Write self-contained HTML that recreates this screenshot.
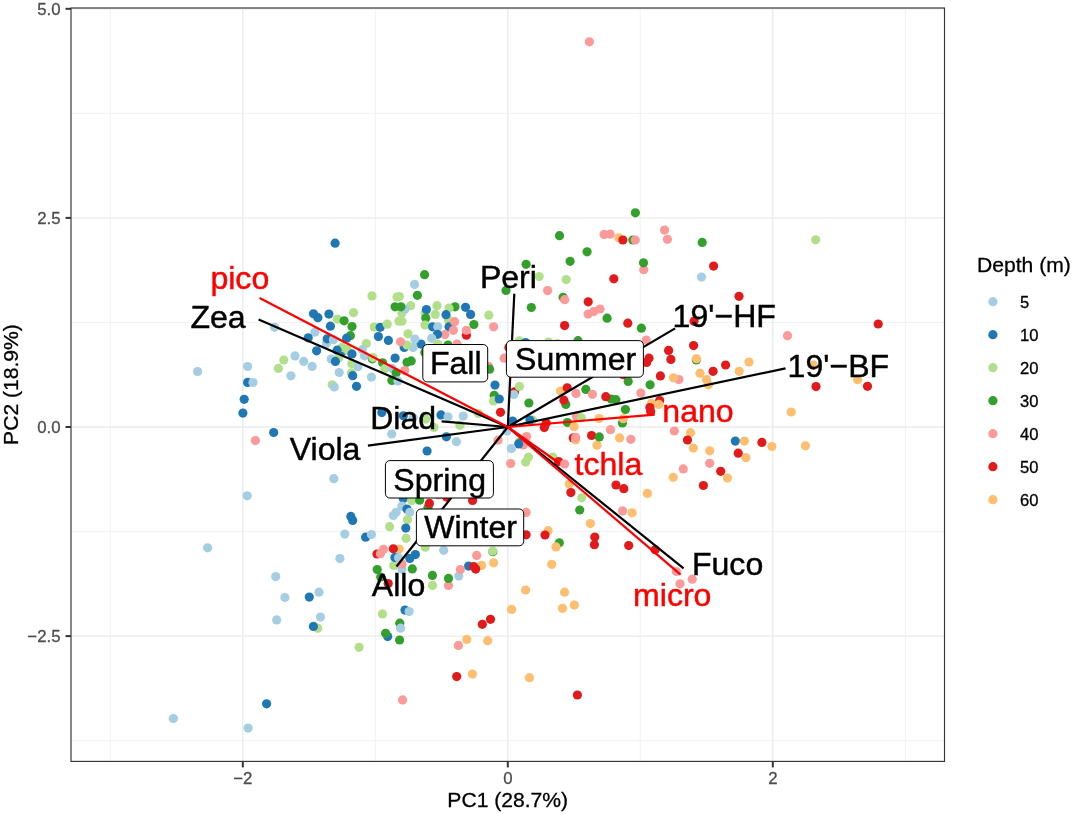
<!DOCTYPE html><html><head><meta charset="utf-8"><title>PCA biplot</title>
<style>html,body{margin:0;padding:0;background:#fff}svg{display:block}text{font-family:"Liberation Sans",Arial,Helvetica,sans-serif}</style></head><body>
<svg width="1072" height="814" viewBox="0 0 1072 814">
<rect width="1072" height="814" fill="#fff"/>
<g stroke="#ebebeb" fill="none">
<line x1="110.30" x2="110.30" y1="8.0" y2="761.4" stroke-width="0.7"/>
<line x1="375.30" x2="375.30" y1="8.0" y2="761.4" stroke-width="0.7"/>
<line x1="640.30" x2="640.30" y1="8.0" y2="761.4" stroke-width="0.7"/>
<line x1="905.30" x2="905.30" y1="8.0" y2="761.4" stroke-width="0.7"/>
<line y1="113.35" y2="113.35" x1="71.0" x2="944.5" stroke-width="0.7"/>
<line y1="322.45" y2="322.45" x1="71.0" x2="944.5" stroke-width="0.7"/>
<line y1="531.55" y2="531.55" x1="71.0" x2="944.5" stroke-width="0.7"/>
<line y1="740.65" y2="740.65" x1="71.0" x2="944.5" stroke-width="0.7"/>
<line x1="242.80" x2="242.80" y1="8.0" y2="761.4" stroke-width="1.4"/>
<line x1="507.80" x2="507.80" y1="8.0" y2="761.4" stroke-width="1.4"/>
<line x1="772.80" x2="772.80" y1="8.0" y2="761.4" stroke-width="1.4"/>
<line y1="8.80" y2="8.80" x1="71.0" x2="944.5" stroke-width="1.4"/>
<line y1="217.90" y2="217.90" x1="71.0" x2="944.5" stroke-width="1.4"/>
<line y1="427.00" y2="427.00" x1="71.0" x2="944.5" stroke-width="1.4"/>
<line y1="636.10" y2="636.10" x1="71.0" x2="944.5" stroke-width="1.4"/>
</g>
<g>
<circle cx="274.6" cy="327.3" r="4.6" fill="#A6CEE3"/>
<circle cx="295.0" cy="355.9" r="4.6" fill="#A6CEE3"/>
<circle cx="283.8" cy="360.0" r="4.6" fill="#B2DF8A"/>
<circle cx="278.4" cy="368.4" r="4.6" fill="#B2DF8A"/>
<circle cx="290.9" cy="375.8" r="4.6" fill="#A6CEE3"/>
<circle cx="247.6" cy="366.5" r="4.6" fill="#A6CEE3"/>
<circle cx="197.6" cy="371.5" r="4.6" fill="#A6CEE3"/>
<circle cx="247.6" cy="382.4" r="4.6" fill="#1F78B4"/>
<circle cx="253.0" cy="382.5" r="4.6" fill="#A6CEE3"/>
<circle cx="244.2" cy="399.3" r="4.6" fill="#1F78B4"/>
<circle cx="242.9" cy="413.1" r="4.6" fill="#1F78B4"/>
<circle cx="273.7" cy="432.5" r="4.6" fill="#1F78B4"/>
<circle cx="255.4" cy="440.6" r="4.6" fill="#FB9A99"/>
<circle cx="247.2" cy="495.8" r="4.6" fill="#A6CEE3"/>
<circle cx="207.6" cy="547.8" r="4.6" fill="#A6CEE3"/>
<circle cx="275.7" cy="576.6" r="4.6" fill="#A6CEE3"/>
<circle cx="284.9" cy="597.5" r="4.6" fill="#A6CEE3"/>
<circle cx="276.7" cy="619.9" r="4.6" fill="#A6CEE3"/>
<circle cx="266.6" cy="703.8" r="4.6" fill="#1F78B4"/>
<circle cx="173.3" cy="718.5" r="4.6" fill="#A6CEE3"/>
<circle cx="248.1" cy="728.1" r="4.6" fill="#A6CEE3"/>
<circle cx="335.1" cy="243.2" r="4.6" fill="#1F78B4"/>
<circle cx="424.6" cy="274.7" r="4.6" fill="#33A02C"/>
<circle cx="414.6" cy="284.4" r="4.6" fill="#A6CEE3"/>
<circle cx="372.0" cy="295.9" r="4.6" fill="#B2DF8A"/>
<circle cx="397.0" cy="297.0" r="4.6" fill="#B2DF8A"/>
<circle cx="395.1" cy="306.8" r="4.6" fill="#33A02C"/>
<circle cx="313.5" cy="313.8" r="4.6" fill="#1F78B4"/>
<circle cx="317.9" cy="317.7" r="4.6" fill="#1F78B4"/>
<circle cx="328.9" cy="314.1" r="4.6" fill="#1F78B4"/>
<circle cx="353.5" cy="312.7" r="4.6" fill="#B2DF8A"/>
<circle cx="337.3" cy="319.1" r="4.6" fill="#B2DF8A"/>
<circle cx="344.1" cy="320.8" r="4.6" fill="#33A02C"/>
<circle cx="352.0" cy="326.6" r="4.6" fill="#33A02C"/>
<circle cx="330.4" cy="326.2" r="4.6" fill="#1F78B4"/>
<circle cx="350.4" cy="335.7" r="4.6" fill="#33A02C"/>
<circle cx="346.6" cy="338.2" r="4.6" fill="#1F78B4"/>
<circle cx="314.9" cy="332.2" r="4.6" fill="#A6CEE3"/>
<circle cx="308.2" cy="337.8" r="4.6" fill="#1F78B4"/>
<circle cx="326.4" cy="343.8" r="4.6" fill="#A6CEE3"/>
<circle cx="327.2" cy="338.8" r="4.6" fill="#1F78B4"/>
<circle cx="333.4" cy="339.7" r="4.6" fill="#A6CEE3"/>
<circle cx="374.2" cy="327.0" r="4.6" fill="#B2DF8A"/>
<circle cx="380.2" cy="327.3" r="4.6" fill="#1F78B4"/>
<circle cx="387.2" cy="324.2" r="4.6" fill="#B2DF8A"/>
<circle cx="398.9" cy="321.2" r="4.6" fill="#B2DF8A"/>
<circle cx="378.4" cy="336.6" r="4.6" fill="#1F78B4"/>
<circle cx="388.4" cy="340.4" r="4.6" fill="#1F78B4"/>
<circle cx="366.4" cy="343.5" r="4.6" fill="#B2DF8A"/>
<circle cx="342.4" cy="351.1" r="4.6" fill="#1F78B4"/>
<circle cx="342.0" cy="347.4" r="4.6" fill="#B2DF8A"/>
<circle cx="347.1" cy="349.7" r="4.6" fill="#B2DF8A"/>
<circle cx="337.1" cy="350.2" r="4.6" fill="#1F78B4"/>
<circle cx="352.0" cy="353.9" r="4.6" fill="#1F78B4"/>
<circle cx="316.6" cy="350.8" r="4.6" fill="#1F78B4"/>
<circle cx="362.3" cy="349.7" r="4.6" fill="#A6CEE3"/>
<circle cx="364.4" cy="355.8" r="4.6" fill="#A6CEE3"/>
<circle cx="372.3" cy="358.8" r="4.6" fill="#33A02C"/>
<circle cx="372.8" cy="357.6" r="4.6" fill="#B2DF8A"/>
<circle cx="382.6" cy="362.8" r="4.6" fill="#33A02C"/>
<circle cx="395.1" cy="358.1" r="4.6" fill="#1F78B4"/>
<circle cx="303.7" cy="361.4" r="4.6" fill="#A6CEE3"/>
<circle cx="331.2" cy="359.0" r="4.6" fill="#A6CEE3"/>
<circle cx="338.7" cy="358.1" r="4.6" fill="#B2DF8A"/>
<circle cx="335.4" cy="361.4" r="4.6" fill="#1F78B4"/>
<circle cx="351.8" cy="363.7" r="4.6" fill="#B2DF8A"/>
<circle cx="312.1" cy="366.4" r="4.6" fill="#A6CEE3"/>
<circle cx="339.2" cy="372.5" r="4.6" fill="#A6CEE3"/>
<circle cx="357.8" cy="366.7" r="4.6" fill="#A6CEE3"/>
<circle cx="351.3" cy="372.9" r="4.6" fill="#B2DF8A"/>
<circle cx="352.7" cy="375.7" r="4.6" fill="#1F78B4"/>
<circle cx="371.4" cy="377.1" r="4.6" fill="#A6CEE3"/>
<circle cx="332.2" cy="384.8" r="4.6" fill="#B2DF8A"/>
<circle cx="334.3" cy="386.9" r="4.6" fill="#A6CEE3"/>
<circle cx="356.5" cy="386.3" r="4.6" fill="#1F78B4"/>
<circle cx="381.8" cy="412.6" r="4.6" fill="#1F78B4"/>
<circle cx="391.7" cy="434.0" r="4.6" fill="#A6CEE3"/>
<circle cx="384.9" cy="368.7" r="4.6" fill="#B2DF8A"/>
<circle cx="391.9" cy="368.3" r="4.6" fill="#A6CEE3"/>
<circle cx="396.1" cy="372.9" r="4.6" fill="#33A02C"/>
<circle cx="391.9" cy="380.4" r="4.6" fill="#33A02C"/>
<circle cx="397.9" cy="380.9" r="4.6" fill="#A6CEE3"/>
<circle cx="333.8" cy="478.7" r="4.6" fill="#A6CEE3"/>
<circle cx="396.1" cy="512.3" r="4.6" fill="#A6CEE3"/>
<circle cx="350.8" cy="516.4" r="4.6" fill="#1F78B4"/>
<circle cx="352.7" cy="520.4" r="4.6" fill="#1F78B4"/>
<circle cx="389.6" cy="526.7" r="4.6" fill="#B2DF8A"/>
<circle cx="344.8" cy="534.1" r="4.6" fill="#A6CEE3"/>
<circle cx="365.6" cy="537.2" r="4.6" fill="#1F78B4"/>
<circle cx="371.4" cy="534.6" r="4.6" fill="#A6CEE3"/>
<circle cx="339.9" cy="558.6" r="4.6" fill="#A6CEE3"/>
<circle cx="377.0" cy="554.0" r="4.6" fill="#E31A1C"/>
<circle cx="380.4" cy="553.7" r="4.6" fill="#FB9A99"/>
<circle cx="383.5" cy="549.3" r="4.6" fill="#FB9A99"/>
<circle cx="399.3" cy="549.0" r="4.6" fill="#FDBF6F"/>
<circle cx="393.3" cy="548.8" r="4.6" fill="#E31A1C"/>
<circle cx="393.8" cy="565.4" r="4.6" fill="#B2DF8A"/>
<circle cx="377.2" cy="569.6" r="4.6" fill="#33A02C"/>
<circle cx="380.7" cy="577.0" r="4.6" fill="#33A02C"/>
<circle cx="388.2" cy="583.6" r="4.6" fill="#E31A1C"/>
<circle cx="393.3" cy="515.5" r="4.6" fill="#A6CEE3"/>
<circle cx="319.0" cy="592.2" r="4.6" fill="#A6CEE3"/>
<circle cx="309.3" cy="597.1" r="4.6" fill="#1F78B4"/>
<circle cx="320.5" cy="617.1" r="4.6" fill="#A6CEE3"/>
<circle cx="317.7" cy="628.2" r="4.6" fill="#B2DF8A"/>
<circle cx="313.4" cy="626.4" r="4.6" fill="#1F78B4"/>
<circle cx="382.5" cy="613.9" r="4.6" fill="#B2DF8A"/>
<circle cx="405.0" cy="610.1" r="4.6" fill="#1F78B4"/>
<circle cx="409.1" cy="611.6" r="4.6" fill="#A6CEE3"/>
<circle cx="399.8" cy="623.2" r="4.6" fill="#33A02C"/>
<circle cx="400.6" cy="628.2" r="4.6" fill="#A6CEE3"/>
<circle cx="387.7" cy="636.6" r="4.6" fill="#1F78B4"/>
<circle cx="385.6" cy="633.3" r="4.6" fill="#33A02C"/>
<circle cx="399.6" cy="640.0" r="4.6" fill="#33A02C"/>
<circle cx="359.1" cy="647.3" r="4.6" fill="#B2DF8A"/>
<circle cx="458.4" cy="645.4" r="4.6" fill="#FB9A99"/>
<circle cx="466.8" cy="639.4" r="4.6" fill="#FDBF6F"/>
<circle cx="487.7" cy="640.7" r="4.6" fill="#FDBF6F"/>
<circle cx="482.3" cy="624.3" r="4.6" fill="#E31A1C"/>
<circle cx="490.5" cy="619.3" r="4.6" fill="#E31A1C"/>
<circle cx="456.7" cy="676.6" r="4.6" fill="#E31A1C"/>
<circle cx="472.4" cy="674.1" r="4.6" fill="#FDBF6F"/>
<circle cx="402.6" cy="699.9" r="4.6" fill="#FB9A99"/>
<circle cx="417.4" cy="295.3" r="4.6" fill="#33A02C"/>
<circle cx="410.7" cy="305.7" r="4.6" fill="#B2DF8A"/>
<circle cx="399.3" cy="296.5" r="4.6" fill="#B2DF8A"/>
<circle cx="401.9" cy="312.9" r="4.6" fill="#B2DF8A"/>
<circle cx="405.1" cy="309.1" r="4.6" fill="#A6CEE3"/>
<circle cx="400.9" cy="306.8" r="4.6" fill="#33A02C"/>
<circle cx="401.9" cy="321.2" r="4.6" fill="#B2DF8A"/>
<circle cx="425.2" cy="313.3" r="4.6" fill="#B2DF8A"/>
<circle cx="426.4" cy="309.6" r="4.6" fill="#1F78B4"/>
<circle cx="425.8" cy="318.0" r="4.6" fill="#33A02C"/>
<circle cx="425.0" cy="325.0" r="4.6" fill="#B2DF8A"/>
<circle cx="437.0" cy="305.7" r="4.6" fill="#B2DF8A"/>
<circle cx="435.3" cy="314.4" r="4.6" fill="#B2DF8A"/>
<circle cx="455.0" cy="306.8" r="4.6" fill="#33A02C"/>
<circle cx="449.0" cy="308.2" r="4.6" fill="#B2DF8A"/>
<circle cx="448.5" cy="319.9" r="4.6" fill="#B2DF8A"/>
<circle cx="446.0" cy="314.7" r="4.6" fill="#1F78B4"/>
<circle cx="465.5" cy="307.3" r="4.6" fill="#1F78B4"/>
<circle cx="470.6" cy="314.4" r="4.6" fill="#1F78B4"/>
<circle cx="488.8" cy="315.2" r="4.6" fill="#B2DF8A"/>
<circle cx="449.0" cy="326.8" r="4.6" fill="#1F78B4"/>
<circle cx="454.6" cy="321.7" r="4.6" fill="#FB9A99"/>
<circle cx="453.4" cy="330.3" r="4.6" fill="#FB9A99"/>
<circle cx="432.6" cy="326.8" r="4.6" fill="#1F78B4"/>
<circle cx="437.8" cy="326.8" r="4.6" fill="#A6CEE3"/>
<circle cx="444.8" cy="334.6" r="4.6" fill="#FB9A99"/>
<circle cx="437.5" cy="334.3" r="4.6" fill="#1F78B4"/>
<circle cx="431.7" cy="338.3" r="4.6" fill="#A6CEE3"/>
<circle cx="473.9" cy="324.5" r="4.6" fill="#33A02C"/>
<circle cx="466.4" cy="335.2" r="4.6" fill="#E31A1C"/>
<circle cx="466.4" cy="330.3" r="4.6" fill="#FB9A99"/>
<circle cx="493.6" cy="326.8" r="4.6" fill="#FB9A99"/>
<circle cx="407.9" cy="333.8" r="4.6" fill="#B2DF8A"/>
<circle cx="421.0" cy="344.1" r="4.6" fill="#1F78B4"/>
<circle cx="414.9" cy="339.0" r="4.6" fill="#A6CEE3"/>
<circle cx="413.1" cy="347.4" r="4.6" fill="#A6CEE3"/>
<circle cx="404.2" cy="347.4" r="4.6" fill="#1F78B4"/>
<circle cx="407.0" cy="345.0" r="4.6" fill="#B2DF8A"/>
<circle cx="400.5" cy="341.8" r="4.6" fill="#FB9A99"/>
<circle cx="437.8" cy="344.1" r="4.6" fill="#B2DF8A"/>
<circle cx="448.0" cy="345.0" r="4.6" fill="#33A02C"/>
<circle cx="457.1" cy="344.1" r="4.6" fill="#FB9A99"/>
<circle cx="407.0" cy="362.3" r="4.6" fill="#33A02C"/>
<circle cx="411.2" cy="360.9" r="4.6" fill="#33A02C"/>
<circle cx="424.8" cy="352.5" r="4.6" fill="#33A02C"/>
<circle cx="404.7" cy="370.6" r="4.6" fill="#FB9A99"/>
<circle cx="403.3" cy="415.8" r="4.6" fill="#1F78B4"/>
<circle cx="413.1" cy="417.7" r="4.6" fill="#A6CEE3"/>
<circle cx="425.7" cy="419.1" r="4.6" fill="#B2DF8A"/>
<circle cx="434.0" cy="427.5" r="4.6" fill="#B2DF8A"/>
<circle cx="441.0" cy="414.9" r="4.6" fill="#1F78B4"/>
<circle cx="448.0" cy="416.8" r="4.6" fill="#A6CEE3"/>
<circle cx="463.2" cy="416.1" r="4.6" fill="#A6CEE3"/>
<circle cx="478.4" cy="413.5" r="4.6" fill="#B2DF8A"/>
<circle cx="459.9" cy="425.2" r="4.6" fill="#B2DF8A"/>
<circle cx="446.4" cy="436.8" r="4.6" fill="#1F78B4"/>
<circle cx="495.0" cy="385.1" r="4.6" fill="#1F78B4"/>
<circle cx="494.2" cy="395.3" r="4.6" fill="#33A02C"/>
<circle cx="493.6" cy="400.9" r="4.6" fill="#B2DF8A"/>
<circle cx="499.3" cy="399.0" r="4.6" fill="#1F78B4"/>
<circle cx="488.6" cy="366.4" r="4.6" fill="#FB9A99"/>
<circle cx="489.6" cy="369.2" r="4.6" fill="#33A02C"/>
<circle cx="456.4" cy="441.7" r="4.6" fill="#A6CEE3"/>
<circle cx="427.1" cy="451.0" r="4.6" fill="#1F78B4"/>
<circle cx="403.3" cy="498.6" r="4.6" fill="#1F78B4"/>
<circle cx="411.7" cy="500.6" r="4.6" fill="#B2DF8A"/>
<circle cx="419.6" cy="500.2" r="4.6" fill="#33A02C"/>
<circle cx="428.0" cy="507.6" r="4.6" fill="#33A02C"/>
<circle cx="429.4" cy="503.4" r="4.6" fill="#E31A1C"/>
<circle cx="446.6" cy="497.1" r="4.6" fill="#E31A1C"/>
<circle cx="438.7" cy="495.0" r="4.6" fill="#FB9A99"/>
<circle cx="472.6" cy="500.4" r="4.6" fill="#E31A1C"/>
<circle cx="401.9" cy="506.2" r="4.6" fill="#A6CEE3"/>
<circle cx="407.0" cy="509.0" r="4.6" fill="#1F78B4"/>
<circle cx="409.8" cy="512.3" r="4.6" fill="#A6CEE3"/>
<circle cx="407.5" cy="519.7" r="4.6" fill="#B2DF8A"/>
<circle cx="405.8" cy="528.1" r="4.6" fill="#1F78B4"/>
<circle cx="406.1" cy="538.3" r="4.6" fill="#B2DF8A"/>
<circle cx="425.2" cy="547.2" r="4.6" fill="#B2DF8A"/>
<circle cx="443.7" cy="550.3" r="4.6" fill="#A6CEE3"/>
<circle cx="415.4" cy="554.6" r="4.6" fill="#1F78B4"/>
<circle cx="409.8" cy="558.4" r="4.6" fill="#1F78B4"/>
<circle cx="394.9" cy="557.4" r="4.6" fill="#1F78B4"/>
<circle cx="398.6" cy="557.7" r="4.6" fill="#A6CEE3"/>
<circle cx="401.9" cy="569.1" r="4.6" fill="#A6CEE3"/>
<circle cx="401.9" cy="564.0" r="4.6" fill="#FB9A99"/>
<circle cx="412.3" cy="568.9" r="4.6" fill="#33A02C"/>
<circle cx="492.8" cy="551.7" r="4.6" fill="#33A02C"/>
<circle cx="492.6" cy="550.9" r="4.6" fill="#B2DF8A"/>
<circle cx="476.7" cy="555.4" r="4.6" fill="#FB9A99"/>
<circle cx="493.6" cy="562.8" r="4.6" fill="#FDBF6F"/>
<circle cx="481.6" cy="565.4" r="4.6" fill="#FDBF6F"/>
<circle cx="468.6" cy="566.1" r="4.6" fill="#1F78B4"/>
<circle cx="473.7" cy="566.6" r="4.6" fill="#E31A1C"/>
<circle cx="475.7" cy="569.1" r="4.6" fill="#E31A1C"/>
<circle cx="458.8" cy="576.1" r="4.6" fill="#A6CEE3"/>
<circle cx="460.4" cy="569.6" r="4.6" fill="#FB9A99"/>
<circle cx="432.4" cy="575.4" r="4.6" fill="#33A02C"/>
<circle cx="448.5" cy="585.4" r="4.6" fill="#FB9A99"/>
<circle cx="448.5" cy="578.4" r="4.6" fill="#33A02C"/>
<circle cx="432.5" cy="585.4" r="4.6" fill="#B2DF8A"/>
<circle cx="635.4" cy="212.8" r="4.6" fill="#33A02C"/>
<circle cx="559.5" cy="235.7" r="4.6" fill="#33A02C"/>
<circle cx="604.1" cy="234.4" r="4.6" fill="#FB9A99"/>
<circle cx="610.1" cy="234.2" r="4.6" fill="#FB9A99"/>
<circle cx="618.8" cy="237.8" r="4.6" fill="#FDBF6F"/>
<circle cx="622.9" cy="240.0" r="4.6" fill="#E31A1C"/>
<circle cx="632.8" cy="240.0" r="4.6" fill="#33A02C"/>
<circle cx="635.3" cy="240.0" r="4.6" fill="#FB9A99"/>
<circle cx="664.6" cy="230.1" r="4.6" fill="#FB9A99"/>
<circle cx="667.4" cy="239.3" r="4.6" fill="#FB9A99"/>
<circle cx="587.1" cy="251.8" r="4.6" fill="#33A02C"/>
<circle cx="570.1" cy="261.3" r="4.6" fill="#33A02C"/>
<circle cx="526.1" cy="264.3" r="4.6" fill="#33A02C"/>
<circle cx="643.7" cy="269.7" r="4.6" fill="#FB9A99"/>
<circle cx="643.5" cy="262.8" r="4.6" fill="#33A02C"/>
<circle cx="539.2" cy="276.6" r="4.6" fill="#B2DF8A"/>
<circle cx="566.2" cy="279.6" r="4.6" fill="#B2DF8A"/>
<circle cx="613.8" cy="278.8" r="4.6" fill="#E31A1C"/>
<circle cx="506.0" cy="290.4" r="4.6" fill="#33A02C"/>
<circle cx="547.6" cy="290.6" r="4.6" fill="#FB9A99"/>
<circle cx="563.1" cy="297.3" r="4.6" fill="#33A02C"/>
<circle cx="564.7" cy="299.7" r="4.6" fill="#FB9A99"/>
<circle cx="588.2" cy="301.8" r="4.6" fill="#E31A1C"/>
<circle cx="531.3" cy="307.5" r="4.6" fill="#33A02C"/>
<circle cx="588.1" cy="314.1" r="4.6" fill="#FB9A99"/>
<circle cx="593.8" cy="311.6" r="4.6" fill="#FB9A99"/>
<circle cx="600.0" cy="309.0" r="4.6" fill="#FB9A99"/>
<circle cx="607.1" cy="318.2" r="4.6" fill="#33A02C"/>
<circle cx="627.8" cy="323.2" r="4.6" fill="#E31A1C"/>
<circle cx="564.6" cy="325.6" r="4.6" fill="#E31A1C"/>
<circle cx="641.4" cy="328.2" r="4.6" fill="#33A02C"/>
<circle cx="694.0" cy="321.2" r="4.6" fill="#E31A1C"/>
<circle cx="519.2" cy="340.9" r="4.6" fill="#B2DF8A"/>
<circle cx="525.6" cy="342.6" r="4.6" fill="#1F78B4"/>
<circle cx="548.5" cy="342.1" r="4.6" fill="#B2DF8A"/>
<circle cx="557.5" cy="343.7" r="4.6" fill="#B2DF8A"/>
<circle cx="578.0" cy="340.7" r="4.6" fill="#33A02C"/>
<circle cx="508.9" cy="347.5" r="4.6" fill="#E31A1C"/>
<circle cx="504.2" cy="358.2" r="4.6" fill="#FB9A99"/>
<circle cx="514.5" cy="391.8" r="4.6" fill="#E31A1C"/>
<circle cx="519.4" cy="386.5" r="4.6" fill="#B2DF8A"/>
<circle cx="513.8" cy="394.6" r="4.6" fill="#A6CEE3"/>
<circle cx="500.5" cy="412.3" r="4.6" fill="#E31A1C"/>
<circle cx="528.9" cy="403.0" r="4.6" fill="#33A02C"/>
<circle cx="560.6" cy="391.1" r="4.6" fill="#FDBF6F"/>
<circle cx="567.2" cy="387.8" r="4.6" fill="#E31A1C"/>
<circle cx="576.0" cy="393.4" r="4.6" fill="#FB9A99"/>
<circle cx="585.8" cy="389.4" r="4.6" fill="#33A02C"/>
<circle cx="592.4" cy="394.3" r="4.6" fill="#FB9A99"/>
<circle cx="565.8" cy="404.4" r="4.6" fill="#33A02C"/>
<circle cx="563.9" cy="400.2" r="4.6" fill="#E31A1C"/>
<circle cx="512.6" cy="421.1" r="4.6" fill="#1F78B4"/>
<circle cx="532.6" cy="420.1" r="4.6" fill="#B2DF8A"/>
<circle cx="529.9" cy="420.1" r="4.6" fill="#1F78B4"/>
<circle cx="507.0" cy="430.9" r="4.6" fill="#A6CEE3"/>
<circle cx="546.2" cy="422.9" r="4.6" fill="#E31A1C"/>
<circle cx="544.3" cy="427.6" r="4.6" fill="#E31A1C"/>
<circle cx="567.4" cy="422.5" r="4.6" fill="#33A02C"/>
<circle cx="574.0" cy="426.7" r="4.6" fill="#FDBF6F"/>
<circle cx="576.5" cy="416.4" r="4.6" fill="#FB9A99"/>
<circle cx="581.3" cy="417.8" r="4.6" fill="#B2DF8A"/>
<circle cx="526.6" cy="436.5" r="4.6" fill="#FB9A99"/>
<circle cx="519.1" cy="442.1" r="4.6" fill="#B2DF8A"/>
<circle cx="521.9" cy="441.6" r="4.6" fill="#33A02C"/>
<circle cx="523.3" cy="444.9" r="4.6" fill="#FB9A99"/>
<circle cx="518.7" cy="443.9" r="4.6" fill="#1F78B4"/>
<circle cx="511.4" cy="448.6" r="4.6" fill="#A6CEE3"/>
<circle cx="498.1" cy="440.2" r="4.6" fill="#FB9A99"/>
<circle cx="528.5" cy="457.0" r="4.6" fill="#B2DF8A"/>
<circle cx="525.7" cy="462.1" r="4.6" fill="#B2DF8A"/>
<circle cx="510.7" cy="463.5" r="4.6" fill="#FB9A99"/>
<circle cx="552.7" cy="457.0" r="4.6" fill="#B2DF8A"/>
<circle cx="558.6" cy="461.6" r="4.6" fill="#E31A1C"/>
<circle cx="564.6" cy="464.0" r="4.6" fill="#FB9A99"/>
<circle cx="573.2" cy="437.9" r="4.6" fill="#E31A1C"/>
<circle cx="575.6" cy="440.0" r="4.6" fill="#FDBF6F"/>
<circle cx="575.6" cy="437.4" r="4.6" fill="#FB9A99"/>
<circle cx="591.6" cy="435.5" r="4.6" fill="#E31A1C"/>
<circle cx="597.0" cy="445.3" r="4.6" fill="#FDBF6F"/>
<circle cx="569.2" cy="484.0" r="4.6" fill="#FDBF6F"/>
<circle cx="570.9" cy="492.6" r="4.6" fill="#E31A1C"/>
<circle cx="581.7" cy="497.8" r="4.6" fill="#B2DF8A"/>
<circle cx="647.4" cy="493.4" r="4.6" fill="#FDBF6F"/>
<circle cx="579.7" cy="510.0" r="4.6" fill="#33A02C"/>
<circle cx="526.1" cy="512.4" r="4.6" fill="#FB9A99"/>
<circle cx="622.6" cy="510.9" r="4.6" fill="#FB9A99"/>
<circle cx="632.1" cy="512.8" r="4.6" fill="#FDBF6F"/>
<circle cx="590.3" cy="523.6" r="4.6" fill="#FDBF6F"/>
<circle cx="526.1" cy="534.8" r="4.6" fill="#E31A1C"/>
<circle cx="548.1" cy="530.7" r="4.6" fill="#FDBF6F"/>
<circle cx="545.0" cy="535.0" r="4.6" fill="#E31A1C"/>
<circle cx="559.3" cy="542.8" r="4.6" fill="#33A02C"/>
<circle cx="556.0" cy="546.9" r="4.6" fill="#FDBF6F"/>
<circle cx="594.8" cy="537.0" r="4.6" fill="#E31A1C"/>
<circle cx="594.4" cy="544.7" r="4.6" fill="#E31A1C"/>
<circle cx="628.7" cy="545.6" r="4.6" fill="#E31A1C"/>
<circle cx="655.2" cy="549.7" r="4.6" fill="#E31A1C"/>
<circle cx="551.7" cy="564.3" r="4.6" fill="#FDBF6F"/>
<circle cx="676.3" cy="571.5" r="4.6" fill="#FB9A99"/>
<circle cx="692.2" cy="579.2" r="4.6" fill="#FB9A99"/>
<circle cx="680.0" cy="583.8" r="4.6" fill="#FB9A99"/>
<circle cx="525.6" cy="590.0" r="4.6" fill="#FDBF6F"/>
<circle cx="564.6" cy="592.2" r="4.6" fill="#FDBF6F"/>
<circle cx="574.3" cy="605.1" r="4.6" fill="#FDBF6F"/>
<circle cx="562.5" cy="608.3" r="4.6" fill="#FDBF6F"/>
<circle cx="511.6" cy="609.4" r="4.6" fill="#FDBF6F"/>
<circle cx="529.5" cy="677.7" r="4.6" fill="#FDBF6F"/>
<circle cx="577.4" cy="695.0" r="4.6" fill="#E31A1C"/>
<circle cx="589.4" cy="41.8" r="4.6" fill="#FB9A99"/>
<circle cx="646.2" cy="340.0" r="4.6" fill="#FB9A99"/>
<circle cx="668.6" cy="350.4" r="4.6" fill="#E31A1C"/>
<circle cx="670.9" cy="359.4" r="4.6" fill="#E31A1C"/>
<circle cx="693.6" cy="345.6" r="4.6" fill="#E31A1C"/>
<circle cx="649.0" cy="358.2" r="4.6" fill="#E31A1C"/>
<circle cx="646.6" cy="362.4" r="4.6" fill="#E31A1C"/>
<circle cx="696.3" cy="360.0" r="4.6" fill="#33A02C"/>
<circle cx="696.5" cy="358.7" r="4.6" fill="#FDBF6F"/>
<circle cx="660.4" cy="375.9" r="4.6" fill="#E31A1C"/>
<circle cx="678.8" cy="379.6" r="4.6" fill="#FB9A99"/>
<circle cx="673.4" cy="377.8" r="4.6" fill="#FDBF6F"/>
<circle cx="628.2" cy="381.5" r="4.6" fill="#33A02C"/>
<circle cx="623.3" cy="374.7" r="4.6" fill="#E31A1C"/>
<circle cx="650.1" cy="384.8" r="4.6" fill="#33A02C"/>
<circle cx="640.9" cy="393.0" r="4.6" fill="#FB9A99"/>
<circle cx="611.2" cy="399.0" r="4.6" fill="#33A02C"/>
<circle cx="615.9" cy="399.7" r="4.6" fill="#33A02C"/>
<circle cx="605.8" cy="396.7" r="4.6" fill="#E31A1C"/>
<circle cx="625.4" cy="409.5" r="4.6" fill="#33A02C"/>
<circle cx="659.7" cy="400.6" r="4.6" fill="#E31A1C"/>
<circle cx="651.3" cy="403.4" r="4.6" fill="#FDBF6F"/>
<circle cx="658.8" cy="404.4" r="4.6" fill="#FDBF6F"/>
<circle cx="649.9" cy="407.6" r="4.6" fill="#E31A1C"/>
<circle cx="650.7" cy="411.5" r="4.6" fill="#E31A1C"/>
<circle cx="599.1" cy="418.5" r="4.6" fill="#FDBF6F"/>
<circle cx="622.4" cy="422.9" r="4.6" fill="#33A02C"/>
<circle cx="623.3" cy="418.7" r="4.6" fill="#FDBF6F"/>
<circle cx="610.5" cy="429.7" r="4.6" fill="#FB9A99"/>
<circle cx="599.3" cy="436.9" r="4.6" fill="#33A02C"/>
<circle cx="619.6" cy="437.9" r="4.6" fill="#FDBF6F"/>
<circle cx="630.8" cy="439.3" r="4.6" fill="#FB9A99"/>
<circle cx="674.3" cy="431.0" r="4.6" fill="#FB9A99"/>
<circle cx="690.5" cy="432.7" r="4.6" fill="#FDBF6F"/>
<circle cx="687.5" cy="440.0" r="4.6" fill="#E31A1C"/>
<circle cx="693.3" cy="448.1" r="4.6" fill="#FDBF6F"/>
<circle cx="683.3" cy="468.9" r="4.6" fill="#FB9A99"/>
<circle cx="673.2" cy="477.3" r="4.6" fill="#FDBF6F"/>
<circle cx="616.0" cy="485.0" r="4.6" fill="#E31A1C"/>
<circle cx="623.8" cy="488.7" r="4.6" fill="#E31A1C"/>
<circle cx="702.2" cy="242.4" r="4.6" fill="#33A02C"/>
<circle cx="713.6" cy="266.1" r="4.6" fill="#E31A1C"/>
<circle cx="701.5" cy="277.1" r="4.6" fill="#A6CEE3"/>
<circle cx="739.0" cy="296.3" r="4.6" fill="#E31A1C"/>
<circle cx="815.7" cy="239.8" r="4.6" fill="#B2DF8A"/>
<circle cx="878.2" cy="324.0" r="4.6" fill="#E31A1C"/>
<circle cx="787.5" cy="335.7" r="4.6" fill="#FB9A99"/>
<circle cx="700.0" cy="373.2" r="4.6" fill="#FDBF6F"/>
<circle cx="706.5" cy="379.6" r="4.6" fill="#FDBF6F"/>
<circle cx="708.4" cy="384.8" r="4.6" fill="#FDBF6F"/>
<circle cx="713.1" cy="371.3" r="4.6" fill="#E31A1C"/>
<circle cx="725.6" cy="365.0" r="4.6" fill="#E31A1C"/>
<circle cx="739.2" cy="371.3" r="4.6" fill="#FDBF6F"/>
<circle cx="748.9" cy="362.0" r="4.6" fill="#FDBF6F"/>
<circle cx="813.4" cy="365.2" r="4.6" fill="#FDBF6F"/>
<circle cx="816.0" cy="386.6" r="4.6" fill="#E31A1C"/>
<circle cx="857.6" cy="379.7" r="4.6" fill="#FDBF6F"/>
<circle cx="867.5" cy="386.3" r="4.6" fill="#E31A1C"/>
<circle cx="791.2" cy="412.0" r="4.6" fill="#FDBF6F"/>
<circle cx="735.3" cy="441.1" r="4.6" fill="#1F78B4"/>
<circle cx="744.4" cy="441.1" r="4.6" fill="#FDBF6F"/>
<circle cx="761.9" cy="442.4" r="4.6" fill="#E31A1C"/>
<circle cx="771.8" cy="446.5" r="4.6" fill="#FDBF6F"/>
<circle cx="805.4" cy="445.8" r="4.6" fill="#FDBF6F"/>
<circle cx="709.7" cy="450.8" r="4.6" fill="#FDBF6F"/>
<circle cx="738.2" cy="453.2" r="4.6" fill="#E31A1C"/>
<circle cx="745.9" cy="457.7" r="4.6" fill="#FDBF6F"/>
<circle cx="709.7" cy="463.3" r="4.6" fill="#FB9A99"/>
<circle cx="720.7" cy="471.3" r="4.6" fill="#E31A1C"/>
<circle cx="727.4" cy="477.9" r="4.6" fill="#FDBF6F"/>
<circle cx="703.4" cy="485.5" r="4.6" fill="#E31A1C"/>
</g>
<g stroke-width="2.2" stroke-linecap="butt">
<line x1="507.8" y1="427.0" x2="258.6" y2="319.6" stroke="#000"/>
<line x1="507.8" y1="427.0" x2="514.3" y2="293.7" stroke="#000"/>
<line x1="507.8" y1="427.0" x2="675.1" y2="328.4" stroke="#000"/>
<line x1="507.8" y1="427.0" x2="785.5" y2="368.3" stroke="#000"/>
<line x1="507.8" y1="427.0" x2="683.6" y2="568.3" stroke="#000"/>
<line x1="507.8" y1="427.0" x2="441.6" y2="421.4" stroke="#000"/>
<line x1="507.8" y1="427.0" x2="367.9" y2="445.7" stroke="#000"/>
<line x1="507.8" y1="427.0" x2="396.5" y2="566.5" stroke="#000"/>
<line x1="507.8" y1="427.0" x2="259.6" y2="297.9" stroke="#f00"/>
<line x1="507.8" y1="427.0" x2="654.7" y2="414.6" stroke="#f00"/>
<line x1="507.8" y1="427.0" x2="680.6" y2="574.6" stroke="#f00"/>
<line x1="507.8" y1="427.0" x2="559.7" y2="463.5" stroke="#f00"/>
</g>
<text text-anchor="middle" x="239.85" y="289.2" font-size="32.1" fill="#f00" stroke="#f00" stroke-width="0.45">pico</text>
<text text-anchor="middle" x="218.05" y="328.0" font-size="32.1" fill="#000" stroke="#000" stroke-width="0.45">Zea</text>
<text text-anchor="middle" x="508.4" y="288.2" font-size="32.1" fill="#000" stroke="#000" stroke-width="0.45">Peri</text>
<text text-anchor="middle" x="724.25" y="326.7" font-size="32.1" fill="#000" stroke="#000" stroke-width="0.45">19'−HF</text>
<text text-anchor="middle" x="838.38" y="377.0" font-size="32.1" fill="#000" stroke="#000" stroke-width="0.45">19'−BF</text>
<text text-anchor="middle" x="698.0" y="422.2" font-size="32.1" fill="#f00" stroke="#f00" stroke-width="0.45">nano</text>
<text text-anchor="middle" x="608.4" y="475.4" font-size="32.1" fill="#f00" stroke="#f00" stroke-width="0.45">tchla</text>
<text text-anchor="middle" x="727.6" y="574.9" font-size="32.1" fill="#000" stroke="#000" stroke-width="0.45">Fuco</text>
<text text-anchor="middle" x="672.25" y="606.3" font-size="32.1" fill="#f00" stroke="#f00" stroke-width="0.45">micro</text>
<text text-anchor="middle" x="403.2" y="429.0" font-size="32.1" fill="#000" stroke="#000" stroke-width="0.45">Diad</text>
<text text-anchor="middle" x="325.1" y="460.2" font-size="32.1" fill="#000" stroke="#000" stroke-width="0.45">Viola</text>
<text text-anchor="middle" x="398.5" y="596.3" font-size="32.1" fill="#000" stroke="#000" stroke-width="0.45">Allo</text>
<rect x="422.8" y="344.5" width="64.9" height="37.4" rx="4.5" ry="4.5" fill="#fff" stroke="#000" stroke-width="1"/>
<text text-anchor="middle" x="455.75" y="374.2" font-size="32.1" fill="#000" stroke="#000" stroke-width="0.45">Fall</text>
<rect x="506.4" y="340.6" width="137.0" height="36.6" rx="4.5" ry="4.5" fill="#fff" stroke="#000" stroke-width="1"/>
<text text-anchor="middle" x="575.7" y="369.7" font-size="32.1" fill="#000" stroke="#000" stroke-width="0.45">Summer</text>
<rect x="385.4" y="460.6" width="108.0" height="37.4" rx="4.5" ry="4.5" fill="#fff" stroke="#000" stroke-width="1"/>
<text text-anchor="middle" x="439.65" y="490.9" font-size="32.1" fill="#000" stroke="#000" stroke-width="0.45">Spring</text>
<rect x="416.4" y="509" width="107.3" height="36.8" rx="4.5" ry="4.5" fill="#fff" stroke="#000" stroke-width="1"/>
<text text-anchor="middle" x="470.6" y="538.3" font-size="32.1" fill="#000" stroke="#000" stroke-width="0.45">Winter</text>
<rect x="71.0" y="8.0" width="873.5" height="753.4" fill="none" stroke="#333" stroke-width="1.15"/>
<g stroke="#333" stroke-width="2.0">
<line x1="242.80" x2="242.80" y1="761.4" y2="767.4"/>
<line x1="507.80" x2="507.80" y1="761.4" y2="767.4"/>
<line x1="772.80" x2="772.80" y1="761.4" y2="767.4"/>
<line y1="8.80" y2="8.80" x1="65.5" x2="71.0"/>
<line y1="217.90" y2="217.90" x1="65.5" x2="71.0"/>
<line y1="427.00" y2="427.00" x1="65.5" x2="71.0"/>
<line y1="636.10" y2="636.10" x1="65.5" x2="71.0"/>
</g>
<g font-size="16.8" fill="#4d4d4d" stroke="#4d4d4d" stroke-width="0.3">
<text x="242.80" y="784.4" text-anchor="middle">−2</text>
<text x="507.80" y="784.4" text-anchor="middle">0</text>
<text x="772.80" y="784.4" text-anchor="middle">2</text>
<text x="60.5" y="15.00" text-anchor="end">5.0</text>
<text x="60.5" y="224.10" text-anchor="end">2.5</text>
<text x="60.5" y="433.20" text-anchor="end">0.0</text>
<text x="60.5" y="642.30" text-anchor="end">−2.5</text>
</g>
<text x="507.75" y="806.7" font-size="21.1" text-anchor="middle" fill="#000" stroke="#000" stroke-width="0.3">PC1 (28.7%)</text>
<text transform="translate(17.7,384.5) rotate(-90)" font-size="21.1" text-anchor="middle" fill="#000" stroke="#000" stroke-width="0.3">PC2 (18.9%)</text>
<text x="977" y="271.5" font-size="21.1" fill="#000" stroke="#000" stroke-width="0.3">Depth (m)</text>
<circle cx="992.9" cy="301.7" r="4.6" fill="#A6CEE3"/>
<text x="1020" y="307.7" font-size="16.6" fill="#000" stroke="#000" stroke-width="0.3">5</text>
<circle cx="992.9" cy="334.7" r="4.6" fill="#1F78B4"/>
<text x="1020" y="340.7" font-size="16.6" fill="#000" stroke="#000" stroke-width="0.3">10</text>
<circle cx="992.9" cy="367.7" r="4.6" fill="#B2DF8A"/>
<text x="1020" y="373.7" font-size="16.6" fill="#000" stroke="#000" stroke-width="0.3">20</text>
<circle cx="992.9" cy="400.7" r="4.6" fill="#33A02C"/>
<text x="1020" y="406.7" font-size="16.6" fill="#000" stroke="#000" stroke-width="0.3">30</text>
<circle cx="992.9" cy="433.7" r="4.6" fill="#FB9A99"/>
<text x="1020" y="439.7" font-size="16.6" fill="#000" stroke="#000" stroke-width="0.3">40</text>
<circle cx="992.9" cy="466.7" r="4.6" fill="#E31A1C"/>
<text x="1020" y="472.7" font-size="16.6" fill="#000" stroke="#000" stroke-width="0.3">50</text>
<circle cx="992.9" cy="499.7" r="4.6" fill="#FDBF6F"/>
<text x="1020" y="505.7" font-size="16.6" fill="#000" stroke="#000" stroke-width="0.3">60</text>
</svg></body></html>
